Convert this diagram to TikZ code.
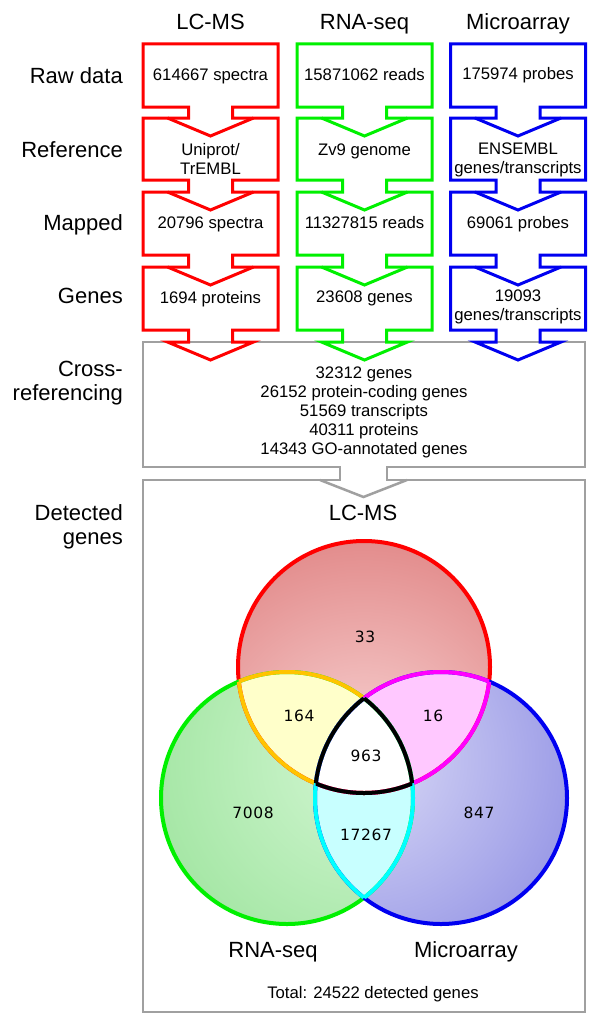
\documentclass[tikz,border=0pt]{standalone}
\usepackage{fontspec}
\setmainfont{Liberation Sans}
\newfontfamily\vennfont[LetterSpace=4]{DejaVu Sans}
\definecolor{cred}{RGB}{255,0,0}
\definecolor{cgreen}{RGB}{0,240,0}
\definecolor{cblue}{RGB}{0,0,240}
\definecolor{cgrey}{RGB}{160,160,160}
\definecolor{redL}{RGB}{248,212,212}
\definecolor{redD}{RGB}{205,68,68}
\definecolor{greenL}{RGB}{210,246,210}
\definecolor{greenD}{RGB}{118,214,118}
\definecolor{blueL}{RGB}{218,218,246}
\definecolor{blueD}{RGB}{88,88,214}
\definecolor{yelF}{RGB}{255,255,202}
\definecolor{magF}{RGB}{255,200,255}
\definecolor{cyaF}{RGB}{200,255,255}
\definecolor{orgB}{RGB}{255,196,0}
\definecolor{magB}{RGB}{255,0,255}
\definecolor{cyaB}{RGB}{0,255,255}
\tikzset{
  colbox/.style={line width=3pt, line join=miter},
  greybox/.style={draw=cgrey, line width=2.5pt, line join=miter},
  hdr/.style={font=\fontsize{22}{26}\selectfont, anchor=base, inner sep=0pt},
  rowlab/.style={font=\fontsize{22}{24}\selectfont, anchor=base east, align=right, inner sep=0pt},
  boxtxt/.style={font=\fontsize{16.7}{18.7}\selectfont, anchor=base, align=center, inner sep=0pt},
  vnum/.style={font=\vennfont\fontsize{15.5}{18}\selectfont, anchor=base, inner sep=0pt},
  vline/.style={line width=4pt},
}
\newcommand\chevcol[2]{%
  \draw[colbox,draw=#2] ({#1-67.5},44) -- ({#1+67.5},44) -- ({#1+67.5},107) -- ({#1+22},107) -- ({#1+22},118) -- ({#1+67.5},118) -- ({#1+67.5},180) -- ({#1+22},180) -- ({#1+22},192) -- ({#1+67.5},192) -- ({#1+67.5},255) -- ({#1+22},255) -- ({#1+22},267) -- ({#1+67.5},267) -- ({#1+67.5},330) -- ({#1+22},330) -- ({#1+22},342) -- ({#1+43},342) -- (#1,360) -- ({#1-43},342) -- ({#1-22},342) -- ({#1-22},330) -- ({#1-67.5},330) -- ({#1-67.5},267) -- ({#1-22},267) -- ({#1-22},255) -- ({#1-67.5},255) -- ({#1-67.5},192) -- ({#1-22},192) -- ({#1-22},180) -- ({#1-67.5},180) -- ({#1-67.5},118) -- ({#1-22},118) -- ({#1-22},107) -- ({#1-67.5},107) -- cycle;
  \foreach \t in {118,192,267} \draw[colbox,draw=#2] ({#1-43},\t) -- (#1,\t+18) -- ({#1+43},\t);
}
\def\cR{(364,667) circle[radius=126pt]}
\def\cG{(287,798) circle[radius=126pt]}
\def\cB{(441,798) circle[radius=126pt]}
\begin{document}
\begin{tikzpicture}[x=1pt,y=-1pt]
\fill[white] (0,0) rectangle (600,1025);
\useasboundingbox (0,0) rectangle (600,1025);

% grey boxes
\draw[greybox] (143,342) -- (585,342) -- (585,467) -- (387,467) -- (387,480) -- (585,480) -- (585,1012) -- (143,1012) -- (143,480) -- (340,480) -- (340,467) -- (143,467) -- cycle;
\draw[greybox] (320,480) -- (363.5,497) -- (407,480);

% columns
\chevcol{210.5}{cred}
\chevcol{364.5}{cgreen}
\chevcol{518}{cblue}

% headers
\node[hdr] (hLC) at (210.5,30) {LC-MS};
\node[hdr] (hRNA) at (364.5,30) {RNA-seq};
\node[hdr] (hMA) at (518,30) {Microarray};

% row labels (base = last line)
\node[rowlab] (lRaw) at (123,83) {Raw data};
\node[rowlab] (lRef) at (123,157) {Reference};
\node[rowlab] (lMap) at (123,230) {Mapped};
\node[rowlab] (lGen) at (123,303) {Genes};
\node[rowlab] (lCross) at (123,400) {Cross-\\referencing};
\node[rowlab] (lDet) at (123,544) {Detected\\genes};

% box texts
\node[boxtxt] (t11) at (210.5,81) {614667 spectra};
\node[boxtxt] (t12) at (210.5,174) {Uniprot/\\TrEMBL};
\node[boxtxt] (t13) at (210.5,228) {20796 spectra};
\node[boxtxt] (t14) at (210.5,303) {1694 proteins};
\node[boxtxt] (t21) at (364.5,81) {15871062 reads};
\node[boxtxt] (t22) at (364.5,155) {Zv9 genome};
\node[boxtxt] (t23) at (364.5,228) {11327815 reads};
\node[boxtxt] (t24) at (364.5,302) {23608 genes};
\node[boxtxt] (t31) at (518,80) {175974 probes};
\node[boxtxt] (t32) at (518,173) {ENSEMBL\\genes/transcripts};
\node[boxtxt] (t33) at (518,228) {69061 probes};
\node[boxtxt] (t34) at (518,320) {19093\\genes/transcripts};

\node[boxtxt, font=\fontsize{16.7}{19}\selectfont] (xref) at (364,454) {32312 genes\\26152 protein-coding genes\\51569 transcripts\\40311 proteins\\14343 GO-annotated genes};

% Venn fills
\begin{scope}\clip \cR; \shade[inner color=redL, outer color=redD] (364,760) circle[radius=440pt];\end{scope}
\begin{scope}\clip \cG; \shade[inner color=greenL, outer color=greenD] (364,760) circle[radius=440pt];\end{scope}
\begin{scope}\clip \cB; \shade[inner color=blueL, outer color=blueD] (364,760) circle[radius=440pt];\end{scope}
\begin{scope}\clip \cR; \fill[yelF] \cG;\end{scope}
\begin{scope}\clip \cR; \fill[magF] \cB;\end{scope}
\begin{scope}\clip \cG; \fill[cyaF] \cB;\end{scope}
\begin{scope}\clip \cR; \clip \cG; \fill[white] \cB;\end{scope}

% Venn borders
\draw[vline,cred] \cR;
\draw[vline,cgreen] \cG;
\draw[vline,cblue] \cB;
\begin{scope}\clip \cR; \draw[vline,orgB] \cG; \draw[vline,magB] \cB;\end{scope}
\begin{scope}\clip \cG; \draw[vline,orgB] \cR; \draw[vline,cyaB] \cB;\end{scope}
\begin{scope}\clip \cB; \draw[vline,magB] \cR; \draw[vline,cyaB] \cG;\end{scope}
\begin{scope}\clip \cR; \clip \cG; \draw[vline,black] \cB;\end{scope}
\begin{scope}\clip \cR; \clip \cB; \draw[vline,black] \cG;\end{scope}
\begin{scope}\clip \cG; \clip \cB; \draw[vline,black] \cR;\end{scope}

% Venn numbers
\node[vnum] (n33) at (365,642) {33};
\node[vnum] (n164) at (299,721) {164};
\node[vnum] (n16) at (433,721) {16};
\node[vnum] (n963) at (366,761) {963};
\node[vnum] (n7008) at (253,818) {7008};
\node[vnum] (n17267) at (366,840) {17267};
\node[vnum] (n847) at (479,818) {847};

% Venn labels
\node[hdr] (vLC) at (363,520) {LC-MS};
\node[hdr] (vRNA) at (273,957) {RNA-seq};
\node[hdr] (vMA) at (466,957) {Microarray};
\node[boxtxt] (total) at (373,998) {Total: 24522 detected genes};
\end{tikzpicture}
\end{document}
